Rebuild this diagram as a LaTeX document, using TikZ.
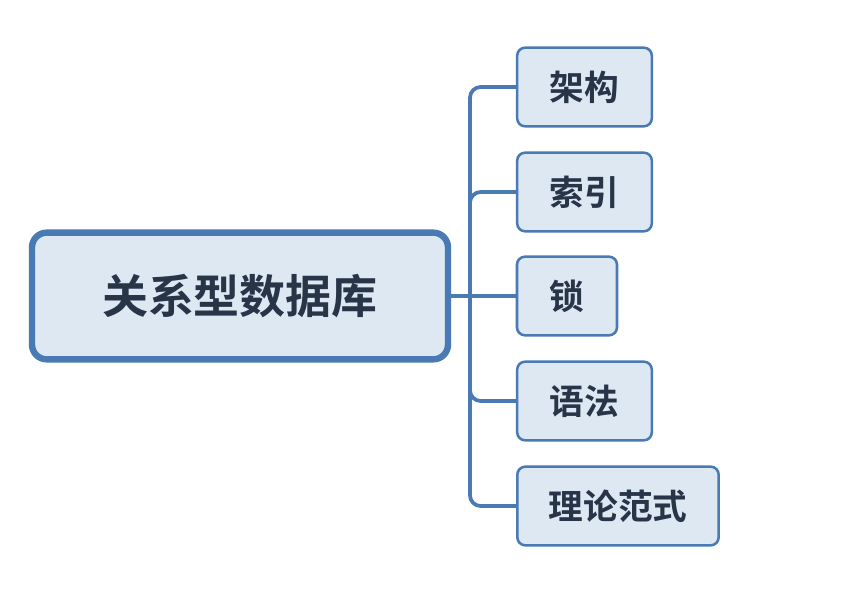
\documentclass[tikz,border=0pt]{standalone}
\usepackage{fontspec}
\newfontfamily\cjk{Noto Sans CJK SC}[BoldFont={Noto Sans CJK SC Bold}]
\definecolor{boxline}{RGB}{74,122,180}
\definecolor{boxfill}{RGB}{222,232,243}
\definecolor{boxtext}{RGB}{40,52,72}
\tikzset{
  rootbox/.style={draw=boxline, fill=boxfill, line width=4.8pt, rounded corners=11pt,
    minimum width=312pt, minimum height=95pt, text=boxtext, font=\cjk\bfseries\fontsize{34.5}{34.5}\selectfont},
  leafbox/.style={draw=boxline, fill=boxfill, line width=1.9pt, rounded corners=6pt,
    minimum height=59pt, text=boxtext, font=\cjk\bfseries\fontsize{26}{26}\selectfont},
  branch/.style={draw=boxline, line width=2.8pt, rounded corners=8pt}
}
\begin{document}
\begin{tikzpicture}[x=0.75pt,y=0.75pt,yscale=-1,xscale=1]
\useasboundingbox (0,0) rectangle (851,606);

% Root Node
\node[rootbox] (root) at (240,296) {关系型数据库};

% Leaf Nodes
\node[leafbox, minimum width=101pt] (arch) at (584.5,87) {架构};
\node[leafbox, minimum width=101pt] (index) at (584.5,192) {索引};
\node[leafbox, minimum width=75pt] (lock) at (567,296) {锁};
\node[leafbox, minimum width=101pt] (syntax) at (584.5,401) {语法};
\node[leafbox, minimum width=151pt] (theory) at (618,506) {理论范式};

% Branch Lines
\coordinate (trunk) at (470,296);
\draw[branch] (root.east) -- (lock.west);
\draw[branch] (trunk) |- (arch.west);
\draw[branch] (trunk) |- (index.west);
\draw[branch] (trunk) |- (syntax.west);
\draw[branch] (trunk) |- (theory.west);

\end{tikzpicture}
\end{document}
